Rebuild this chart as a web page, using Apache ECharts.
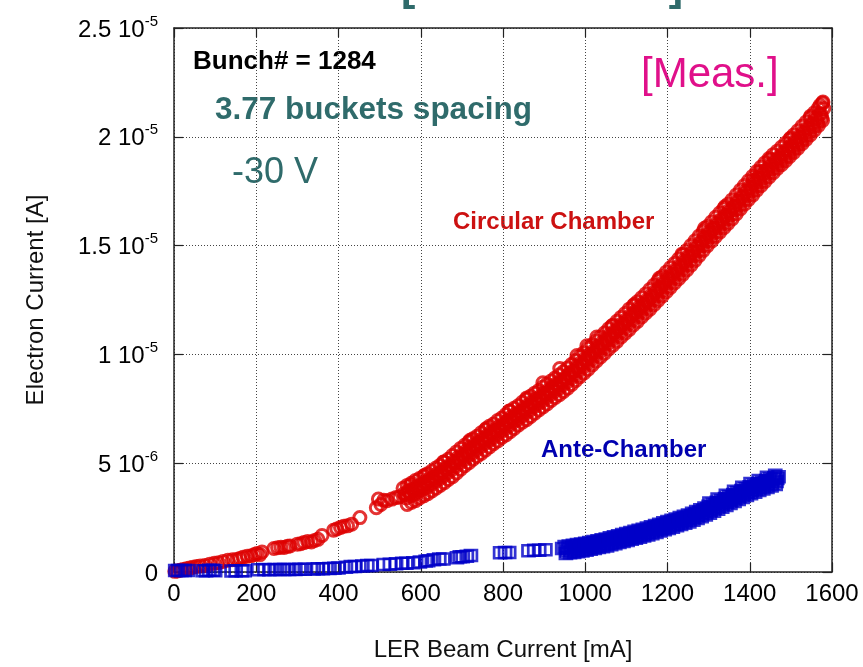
<!DOCTYPE html>
<html>
<head>
<meta charset="utf-8">
<script src="https://cdn.jsdelivr.net/npm/echarts@6/dist/echarts.min.js"></script>
<style>
  html, body { margin: 0; padding: 0; background: #ffffff; }
  #chart { width: 863px; height: 667px; }
</style>
</head>
<body>
<div id="chart"></div>
<script>
// Electron current vs LER beam current, [mA, µA] pairs.
// Circular chamber: sparse low-current points
const circularLow = [
  [2,0.03],[8,0.05],[15,0.08],[22,0.12],[30,0.15],[38,0.18],[46,0.22],[55,0.25],[64,0.28],[75,0.3],
  [87,0.36],[98,0.4],[108,0.42],[119,0.48],[131,0.54],[142,0.56],[152,0.58],[160,0.62],[168,0.68],
  [178,0.72],[188,0.75],[196,0.8],[202,0.85],[209,0.8],[214,0.92],
  [243,1.08],[252,1.12],[260,1.14],[268,1.13],[276,1.18],[282,1.2],
  [300,1.28],[308,1.3],[316,1.35],[325,1.4],[334,1.38],[342,1.45],[350,1.5],[360,1.68],
  [388,1.92],[396,1.98],[405,2.05],[413,2.1],[422,2.12],[432,2.2],[452,2.5],
  [492,2.95],[497,3.35],[503,3.1],[510,3.3],[518,3.28],[530,3.35],[540,3.42],[548,3.45]
];
// Circular chamber: dense band, top row
const circularBandZ = [
  [557,3.85],[567,3.98],[577,4.08],[587,4.2],[597,4.3],[607,4.4],[617,4.52],[627,4.64],[637,4.78],[647,4.9],
  [657,5.05],[667,5.18],[677,5.35],[687,5.52],[697,5.68],[707,5.82],[717,5.98],[727,6.12],[737,6.24],[747,6.4],
  [757,6.54],[767,6.7],[777,6.8],[787,6.96],[797,7.08],[807,7.24],[817,7.4],[827,7.52],[837,7.64],[847,7.8],
  [857,7.94],[867,8.08],[877,8.22],[887,8.34],[897,8.5],[907,8.64],[917,8.78],[927,8.92],[937,9.06],[947,9.2],
  [957,9.38],[967,9.54],[977,9.72],[987,9.9],[997,10.08],[1007,10.28],[1017,10.44],[1027,10.62],[1037,10.8],[1047,10.98],
  [1057,11.18],[1067,11.34],[1077,11.52],[1087,11.7],[1097,11.88],[1107,12.08],[1117,12.24],[1127,12.42],[1137,12.6],[1147,12.78],
  [1157,12.98],[1167,13.18],[1177,13.38],[1187,13.58],[1197,13.78],[1207,13.98],[1217,14.18],[1227,14.38],[1237,14.58],[1247,14.78],
  [1257,15.0],[1267,15.22],[1277,15.44],[1287,15.66],[1297,15.88],[1307,16.08],[1317,16.3],[1327,16.5],[1337,16.7],[1347,16.9],
  [1357,17.1],[1367,17.32],[1377,17.54],[1387,17.76],[1397,17.98],[1407,18.18],[1417,18.4],[1427,18.6],[1437,18.8],[1447,19.0],
  [1457,19.18],[1467,19.34],[1477,19.52],[1487,19.7],[1497,19.88],[1507,20.08],[1517,20.28],[1527,20.48],[1537,20.68],[1547,20.88],
  [1557,21.1],[1567,21.32],[1577,21.55]
];
// Circular chamber: dense band, upper row
const circularBandA = [
  [560,3.6],[570,3.72],[580,3.8],[590,3.92],[600,4.0],[610,4.12],[620,4.25],[630,4.35],[640,4.52],[650,4.6],
  [660,4.78],[670,4.9],[680,5.08],[690,5.25],[700,5.4],[710,5.55],[720,5.72],[730,5.85],[740,5.95],[750,6.12],
  [760,6.25],[770,6.42],[780,6.5],[790,6.68],[800,6.8],[810,6.95],[820,7.12],[830,7.25],[840,7.35],[850,7.52],
  [860,7.65],[870,7.8],[880,7.95],[890,8.05],[900,8.22],[910,8.35],[920,8.5],[930,8.65],[940,8.78],[950,8.9],
  [960,9.1],[970,9.25],[980,9.45],[990,9.62],[1000,9.8],[1010,10.0],[1020,10.15],[1030,10.35],[1040,10.52],[1050,10.7],
  [1060,10.9],[1070,11.05],[1080,11.25],[1090,11.42],[1100,11.6],[1110,11.8],[1120,11.95],[1130,12.15],[1140,12.32],[1150,12.5],
  [1160,12.7],[1170,12.9],[1180,13.1],[1190,13.3],[1200,13.52],[1210,13.7],[1220,13.9],[1230,14.1],[1240,14.3],[1250,14.5],
  [1260,14.72],[1270,14.95],[1280,15.15],[1290,15.4],[1300,15.6],[1310,15.8],[1320,16.02],[1330,16.2],[1340,16.4],[1350,16.62],
  [1360,16.8],[1370,17.05],[1380,17.25],[1390,17.5],[1400,17.7],[1410,17.9],[1420,18.12],[1430,18.3],[1440,18.5],[1450,18.72],
  [1460,18.9],[1470,19.05],[1480,19.25],[1490,19.42],[1500,19.6],[1510,19.8],[1520,20.0],[1530,20.22],[1540,20.4],[1550,20.6],
  [1560,20.85],[1570,21.05],[1580,21.3]
];
// Circular chamber: dense band, upper-middle row
const circularBandAB = [
  [563,3.55],[573,3.65],[583,3.76],[593,3.86],[603,3.96],[613,4.08],[623,4.2],[633,4.32],[643,4.45],[653,4.58],
  [663,4.72],[673,4.86],[683,5.02],[693,5.18],[703,5.33],[713,5.48],[723,5.64],[733,5.78],[743,5.92],[753,6.06],
  [763,6.2],[773,6.34],[783,6.48],[793,6.62],[803,6.76],[813,6.9],[823,7.05],[833,7.18],[843,7.32],[853,7.46],
  [863,7.6],[873,7.74],[883,7.88],[893,8.02],[903,8.16],[913,8.3],[923,8.45],[933,8.58],[943,8.72],[953,8.88],
  [963,9.05],[973,9.22],[983,9.4],[993,9.56],[1003,9.75],[1013,9.93],[1023,10.1],[1033,10.28],[1043,10.46],[1053,10.65],
  [1063,10.84],[1073,11.02],[1083,11.2],[1093,11.38],[1103,11.56],[1113,11.75],[1123,11.92],[1133,12.1],[1143,12.28],[1153,12.46],
  [1163,12.66],[1173,12.86],[1183,13.06],[1193,13.26],[1203,13.46],[1213,13.66],[1223,13.86],[1233,14.05],[1243,14.26],[1253,14.48],
  [1263,14.7],[1273,14.92],[1283,15.15],[1293,15.36],[1303,15.57],[1313,15.78],[1323,15.98],[1333,16.18],[1343,16.38],[1353,16.58],
  [1363,16.8],[1373,17.02],[1383,17.24],[1393,17.46],[1403,17.66],[1413,17.88],[1423,18.08],[1433,18.28],[1443,18.48],[1453,18.68],
  [1463,18.86],[1473,19.04],[1483,19.22],[1493,19.4],[1503,19.58],[1513,19.78],[1523,19.98],[1533,20.18],[1543,20.38],[1553,20.6],
  [1563,20.82],[1573,21.05]
];
// Circular chamber: dense band, middle row
const circularBandB = [
  [565,3.4],[575,3.5],[585,3.58],[595,3.7],[605,3.8],[615,3.9],[625,4.02],[635,4.15],[645,4.28],[655,4.4],
  [665,4.55],[675,4.7],[685,4.85],[695,5.0],[705,5.15],[715,5.32],[725,5.45],[735,5.6],[745,5.75],[755,5.9],
  [765,6.02],[775,6.15],[785,6.3],[795,6.45],[805,6.58],[815,6.72],[825,6.88],[835,7.0],[845,7.15],[855,7.3],
  [865,7.42],[875,7.58],[885,7.72],[895,7.85],[905,8.0],[915,8.15],[925,8.3],[935,8.42],[945,8.58],[955,8.72],
  [965,8.9],[975,9.05],[985,9.25],[995,9.42],[1005,9.6],[1015,9.78],[1025,9.95],[1035,10.12],[1045,10.3],[1055,10.5],
  [1065,10.68],[1075,10.85],[1085,11.02],[1095,11.22],[1105,11.4],[1115,11.58],[1125,11.75],[1135,11.95],[1145,12.12],[1155,12.3],
  [1165,12.5],[1175,12.7],[1185,12.9],[1195,13.1],[1205,13.3],[1215,13.5],[1225,13.7],[1235,13.9],[1245,14.1],[1255,14.32],
  [1265,14.55],[1275,14.75],[1285,15.0],[1295,15.2],[1305,15.4],[1315,15.6],[1325,15.82],[1335,16.02],[1345,16.22],[1355,16.42],
  [1365,16.65],[1375,16.85],[1385,17.08],[1395,17.3],[1405,17.5],[1415,17.72],[1425,17.92],[1435,18.12],[1445,18.32],[1455,18.52],
  [1465,18.7],[1475,18.88],[1485,19.05],[1495,19.25],[1505,19.42],[1515,19.62],[1525,19.82],[1535,20.02],[1545,20.22],[1555,20.45],
  [1565,20.65],[1575,20.88]
];
// Circular chamber: dense band, lower row
const circularBandC = [
  [567,3.1],[577,3.2],[587,3.28],[597,3.4],[607,3.5],[617,3.6],[627,3.72],[637,3.85],[647,3.98],[657,4.1],
  [667,4.25],[677,4.38],[687,4.55],[697,4.72],[707,4.88],[717,5.02],[727,5.18],[737,5.32],[747,5.45],[757,5.6],
  [767,5.75],[777,5.9],[787,6.02],[797,6.18],[807,6.3],[817,6.45],[827,6.6],[837,6.75],[847,6.88],[857,7.0],
  [867,7.15],[877,7.3],[887,7.45],[897,7.58],[907,7.72],[917,7.88],[927,8.02],[937,8.15],[947,8.3],[957,8.45],
  [967,8.62],[977,8.8],[987,8.98],[997,9.15],[1007,9.32],[1017,9.52],[1027,9.7],[1037,9.88],[1047,10.05],[1057,10.25],
  [1067,10.42],[1077,10.6],[1087,10.8],[1097,10.98],[1107,11.15],[1117,11.35],[1127,11.52],[1137,11.72],[1147,11.9],[1157,12.08],
  [1167,12.28],[1177,12.48],[1187,12.68],[1197,12.88],[1207,13.08],[1217,13.28],[1227,13.48],[1237,13.68],[1247,13.88],[1257,14.1],
  [1267,14.32],[1277,14.55],[1287,14.78],[1297,15.0],[1307,15.2],[1317,15.42],[1327,15.62],[1337,15.82],[1347,16.02],[1357,16.22],
  [1367,16.45],[1377,16.68],[1387,16.9],[1397,17.12],[1407,17.32],[1417,17.55],[1427,17.75],[1437,17.95],[1447,18.15],[1457,18.35],
  [1467,18.55],[1477,18.72],[1487,18.9],[1497,19.1],[1507,19.28],[1517,19.48],[1527,19.68],[1537,19.88],[1547,20.08],[1557,20.3],
  [1567,20.52],[1577,20.75]
];
// Circular chamber: scattered points above the band
const circularOutliers = [
  [575,4.0],[610,4.45],[655,5.05],[720,6.05],[760,6.6],[815,7.4],[858,8.0],[897,8.7],[938,9.35],[980,9.95],
  [1004,10.4],[1028,10.8],[1065,11.3],[1120,12.3],[1180,13.5],[1235,14.6],[1290,15.8],[1340,16.8],[1408,18.0],
  [1425,18.4],[1449,18.95],[1500,19.95],[1548,20.95],[1571,21.45],[1578,21.6]
];

// Ante-chamber: sparse low-current points
const anteLow = [
  [3,0.07],[10,0.07],[18,0.07],[26,0.07],[34,0.07],
  [70,0.06],[78,0.06],[86,0.08],[95,0.08],[100,0.06],
  [140,0.05],[150,0.06],[165,0.06],[172,0.06],
  [205,0.1],[220,0.11],[232,0.1],[245,0.11],[258,0.11],[268,0.12],[280,0.11],[295,0.12],[305,0.13],[318,0.13],
  [340,0.14],[350,0.15],[362,0.15],[378,0.16],[390,0.17],[400,0.18],
  [418,0.22],[430,0.25],[440,0.25],[458,0.28],[470,0.3],[480,0.3],
  [510,0.34],[525,0.36],[540,0.38],[555,0.4],[565,0.4],[582,0.42],
  [598,0.46],[612,0.5],[618,0.52],[632,0.56],[645,0.6],[655,0.6],
  [688,0.66],[695,0.7],[702,0.7],[712,0.72],[722,0.76],
  [793,0.88],[805,0.9],[815,0.9],[862,0.98],[876,1.0],[888,1.0],[903,1.02],[944,1.08]
];
// Ante-chamber: dense band, upper row
const anteBandA = [
  [950,1.17],[960,1.2],[970,1.23],[980,1.26],[990,1.29],[1000,1.32],[1010,1.36],[1020,1.4],[1030,1.44],[1040,1.48],
  [1050,1.52],[1060,1.57],[1070,1.62],[1080,1.67],[1090,1.72],[1100,1.77],[1110,1.82],[1120,1.87],[1130,1.92],[1140,1.97],
  [1150,2.02],[1160,2.08],[1170,2.14],[1180,2.2],[1190,2.26],[1200,2.32],[1210,2.38],[1220,2.44],[1230,2.5],[1240,2.56],
  [1250,2.62],[1260,2.7],[1270,2.78],[1280,2.86],[1290,2.94],[1300,3.02],[1310,3.11],[1320,3.2],[1330,3.29],[1340,3.38],
  [1350,3.47],[1360,3.56],[1370,3.65],[1380,3.74],[1390,3.83],[1400,3.92],[1410,3.99],[1420,4.06],[1430,4.13],[1440,4.2],
  [1450,4.27],[1460,4.33],[1470,4.38]
];
// Ante-chamber: dense band, upper-middle row
const anteBandAB = [
  [957,1.09],[967,1.12],[977,1.15],[987,1.18],[997,1.21],[1007,1.25],[1017,1.29],[1027,1.33],[1037,1.37],[1047,1.41],
  [1057,1.46],[1067,1.51],[1077,1.56],[1087,1.61],[1097,1.66],[1107,1.71],[1117,1.76],[1127,1.81],[1137,1.86],[1147,1.91],
  [1157,1.97],[1167,2.03],[1177,2.09],[1187,2.15],[1197,2.21],[1207,2.27],[1217,2.33],[1227,2.39],[1237,2.45],[1247,2.51],
  [1257,2.59],[1267,2.67],[1277,2.75],[1287,2.83],[1297,2.91],[1307,3.0],[1317,3.09],[1327,3.18],[1337,3.27],[1347,3.36],
  [1357,3.45],[1367,3.54],[1377,3.63],[1387,3.72],[1397,3.81],[1407,3.89],[1417,3.96],[1427,4.03],[1437,4.1],[1447,4.17],
  [1457,4.24],[1467,4.3]
];
// Ante-chamber: dense band, middle row
const anteBandB = [
  [955,0.97],[965,1.0],[975,1.02],[985,1.05],[995,1.08],[1005,1.12],[1015,1.16],[1025,1.2],[1035,1.24],[1045,1.28],
  [1055,1.32],[1065,1.37],[1075,1.42],[1085,1.47],[1095,1.52],[1105,1.57],[1115,1.62],[1125,1.67],[1135,1.72],[1145,1.77],
  [1155,1.83],[1165,1.89],[1175,1.95],[1185,2.01],[1195,2.07],[1205,2.13],[1215,2.19],[1225,2.25],[1235,2.31],[1245,2.37],
  [1255,2.44],[1265,2.52],[1275,2.6],[1285,2.68],[1295,2.76],[1305,2.84],[1315,2.93],[1325,3.02],[1335,3.11],[1345,3.2],
  [1355,3.29],[1365,3.38],[1375,3.47],[1385,3.56],[1395,3.65],[1405,3.74],[1415,3.81],[1425,3.88],[1435,3.95],[1445,4.02],
  [1455,4.09],[1465,4.16]
];
// Ante-chamber: dense band, lower row
const anteBandC = [
  [953,0.85],[963,0.88],[973,0.9],[983,0.93],[993,0.96],[1003,1.0],[1013,1.04],[1023,1.08],[1033,1.12],[1043,1.16],
  [1053,1.2],[1063,1.25],[1073,1.3],[1083,1.35],[1093,1.4],[1103,1.45],[1113,1.5],[1123,1.55],[1133,1.6],[1143,1.65],
  [1153,1.7],[1163,1.76],[1173,1.82],[1183,1.88],[1193,1.94],[1203,2.0],[1213,2.06],[1223,2.12],[1233,2.18],[1243,2.24],
  [1253,2.3],[1263,2.38],[1273,2.46],[1283,2.54],[1293,2.62],[1303,2.7],[1313,2.79],[1323,2.88],[1333,2.97],[1343,3.06],
  [1353,3.15],[1363,3.24],[1373,3.33],[1383,3.42],[1393,3.51],[1403,3.6],[1413,3.67],[1423,3.74],[1433,3.81],[1443,3.88],
  [1453,3.95],[1463,4.02]
];
// Ante-chamber: upper edge of the band at high current
const anteBandTop = [
  [1302,3.17],[1322,3.35],[1342,3.53],[1362,3.71],[1382,3.89],[1402,4.07],[1422,4.21],[1442,4.35],[1462,4.45]
];

// Axis ticks (y in µA) and the labels written as mantissa + power of ten
const xTicks = [0, 200, 400, 600, 800, 1000, 1200, 1400, 1600];
const yTicks = [0, 5, 10, 15, 20, 25];
const yTickMantissa = ['0', '5 10', '1 10', '1.5 10', '2 10', '2.5 10'];
const yTickExponent = ['', '-6', '-5', '-5', '-5', '-5'];

const FONT = '"Liberation Sans", Arial, Helvetica, sans-serif';
const TEAL = '#2f6b6b';

const chart = echarts.init(document.getElementById('chart'), null, { renderer: 'canvas' });

const frameLine = { show: true, onZero: false, lineStyle: { color: '#222', width: 1.5 } };
const innerTick = { show: true, inside: true, length: 9, lineStyle: { color: '#222', width: 1.2 } };
const dotted = { show: true, lineStyle: { color: '#444', width: 1, type: [1, 2] } };

function yLabel(v) {
  const i = yTicks.findIndex(t => Math.abs(t - v) < 1e-9);
  if (i < 0) return '';
  return yTickExponent[i] ? '{m|' + yTickMantissa[i] + '}{e|' + yTickExponent[i] + '}' : '{m|' + yTickMantissa[i] + '}';
}

function xLabel(v) {
  return String(v);
}

function textEl(str, x, y, font, color, align) {
  return {
    type: 'text', x: x, y: y, silent: true,
    style: { text: str, font: font, fill: color, align: align || 'left', verticalAlign: 'middle',
             textAlign: align || 'left', textVerticalAlign: 'middle' }
  };
}

const option = {
  backgroundColor: '#ffffff',
  animation: false,
  grid: { left: 174, right: 31, top: 28, bottom: 92, containLabel: false },
  xAxis: [
    {
      type: 'value', min: xTicks[0], max: xTicks[xTicks.length - 1], interval: 200,
      axisLine: frameLine, axisTick: innerTick, splitLine: dotted,
      axisLabel: { fontSize: 24, color: '#000', fontFamily: FONT, margin: 10, formatter: xLabel },
      name: 'LER Beam Current [mA]', nameLocation: 'middle', nameGap: 66,
      nameTextStyle: { fontSize: 24, color: '#111', fontFamily: FONT }
    },
    {
      type: 'value', position: 'top', min: xTicks[0], max: xTicks[xTicks.length - 1], interval: 200,
      axisLine: frameLine, axisTick: innerTick, axisLabel: { show: false }, splitLine: { show: false }
    }
  ],
  yAxis: [
    {
      type: 'value', min: yTicks[0], max: yTicks[yTicks.length - 1], interval: 5,
      axisLine: frameLine, axisTick: innerTick, splitLine: dotted,
      axisLabel: {
        margin: 16, formatter: yLabel,
        rich: {
          m: { fontSize: 24, color: '#000', fontFamily: FONT, lineHeight: 28, verticalAlign: 'bottom' },
          e: { fontSize: 15, color: '#000', fontFamily: FONT, lineHeight: 15, verticalAlign: 'top' }
        }
      },
      name: 'Electron Current [A]', nameLocation: 'middle', nameGap: 126, nameRotate: 90,
      nameTextStyle: { fontSize: 24, color: '#111', fontFamily: FONT }
    },
    {
      type: 'value', position: 'right', min: yTicks[0], max: yTicks[yTicks.length - 1], interval: 5,
      axisLine: frameLine, axisTick: innerTick, axisLabel: { show: false }, splitLine: { show: false }
    }
  ],
  series: [
    {
      name: 'Circular Chamber', type: 'scatter', silent: true,
      data: circularLow.concat(circularBandC, circularBandB, circularBandAB, circularBandA, circularBandZ, circularOutliers),
      symbol: 'circle', symbolSize: 12,
      itemStyle: { color: 'rgba(0,0,0,0)', borderColor: '#dd0000', borderWidth: 3 }
    },
    {
      name: 'Ante-Chamber', type: 'scatter', silent: true,
      data: anteLow.concat(anteBandC, anteBandB, anteBandAB, anteBandA, anteBandTop),
      symbol: 'rect', symbolSize: [12, 11],
      itemStyle: { color: 'rgba(0,0,0,0)', borderColor: '#0000c8', borderWidth: 2.6 }
    }
  ],
  graphic: [
    textEl('[Linear Scale]', 542, -12, 'bold 43px ' + FONT, TEAL, 'center'),
    textEl('Bunch# = 1284', 193, 61.5, 'bold 26px ' + FONT, '#000'),
    textEl('3.77 buckets spacing', 215, 110, 'bold 31.5px ' + FONT, TEAL),
    textEl('-30 V', 232, 173, '36px ' + FONT, TEAL),
    textEl('[Meas.]', 641, 75.5, '42px ' + FONT, '#e0108a'),
    textEl('Circular Chamber', 453, 222.5, 'bold 24px ' + FONT, '#cc1111'),
    textEl('Ante-Chamber', 541, 450.5, 'bold 24px ' + FONT, '#0000b0')
  ]
};

chart.setOption(option);
</script>
</body>
</html>
